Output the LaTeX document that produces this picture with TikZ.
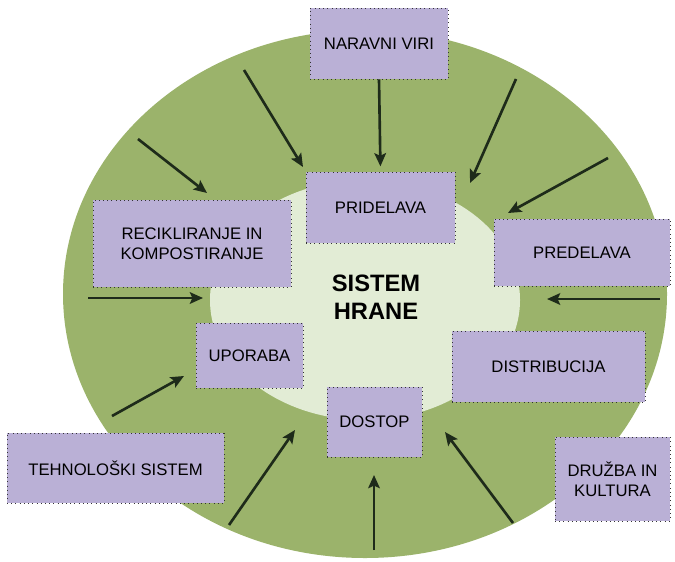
\documentclass[tikz,border=0pt]{standalone}
\usepackage{fontspec}
\setmainfont{Liberation Sans}
\usepackage{xcolor}
\usepackage{tikz}
\usetikzlibrary{arrows.meta}

\definecolor{outergreen}{HTML}{9BB36B}
\definecolor{innergreen}{HTML}{E2ECD5}
\definecolor{boxlilac}{HTML}{BAB0D6}
\definecolor{arrowdark}{HTML}{1E2B1A}

\tikzset{
  box/.style={draw=black!80, dotted, fill=boxlilac, align=center, inner sep=2pt,
    font=\fontsize{9.5}{11.5}\selectfont},
  arr/.style={-{Stealth[length=7.5pt, width=6.6pt, inset=1.5pt]}, line width=1.5pt, color=arrowdark}
}

\begin{document}
\begin{tikzpicture}[x=0.02cm, y=-0.02cm]
          \useasboundingbox (0,0) rectangle (675,561);
          \fill[color=outergreen] (365,294) ellipse [x radius=302, y radius=264];
          \fill[color=innergreen] (365,300) ellipse [x radius=155, y radius=120];
          \node[font=\fontsize{13.5}{16}\selectfont\bfseries, align=center] (hrana) at (376,297) {SISTEM\\HRANE};

          \node[box, minimum width=2.76cm, minimum height=1.42cm] (naravni) at (379,43.5) {NARAVNI VIRI};
          \node[box, minimum width=2.98cm, minimum height=1.42cm] (pridelava) at (380.5,207.5) {PRIDELAVA};
          \node[box, minimum width=3.52cm, minimum height=1.34cm] (predelava) at (582,252.5) {PREDELAVA};
          \node[box, minimum width=3.96cm, minimum height=1.74cm] (recikliranje) at (192,243.5) {RECIKLIRANJE IN\\KOMPOSTIRANJE};
          \node[box, minimum width=2.14cm, minimum height=1.30cm] (uporaba) at (249.5,355.5) {UPORABA};
          \node[box, minimum width=4.34cm, minimum height=1.40cm] (tehnoloski) at (115.5,468) {TEHNOLOŠKI SISTEM};
          \node[box, minimum width=3.86cm, minimum height=1.42cm] (distribucija) at (548.5,366.5) {DISTRIBUCIJA};
          \node[box, minimum width=1.90cm, minimum height=1.40cm] (dostop) at (374.5,422) {DOSTOP};
          \node[box, minimum width=2.30cm, minimum height=1.68cm] (druzba) at (612.5,479) {DRUŽBA IN\\KULTURA};

          % arrow ends
          \coordinate (a1) at (244,70);  \coordinate (b1) at (303,167);
          \coordinate (a2) at (138,139); \coordinate (b2) at (207,193);
          \coordinate (a3) at (516,79);  \coordinate (b3) at (470,183);
          \coordinate (a4) at (608,158); \coordinate (b4) at (508,213);
          \coordinate (a5) at (88,298);  \coordinate (b5) at (203,298);
          \coordinate (a6) at (660,299); \coordinate (b6) at (547,299);
          \coordinate (a7) at (112,416); \coordinate (b7) at (184,376);
          \coordinate (a8) at (229,525); \coordinate (b8) at (295,430);
          \coordinate (a9) at (374,550); \coordinate (b9) at (374,475);
          \coordinate (a10) at (513,523); \coordinate (b10) at (445,432);

          \draw[arr, shorten >=3pt] (naravni.south) -- (pridelava.north);
          \foreach \i in {1,...,10}
            \draw[arr] (a\i) -- (b\i);
        \end{tikzpicture}
\end{document}
